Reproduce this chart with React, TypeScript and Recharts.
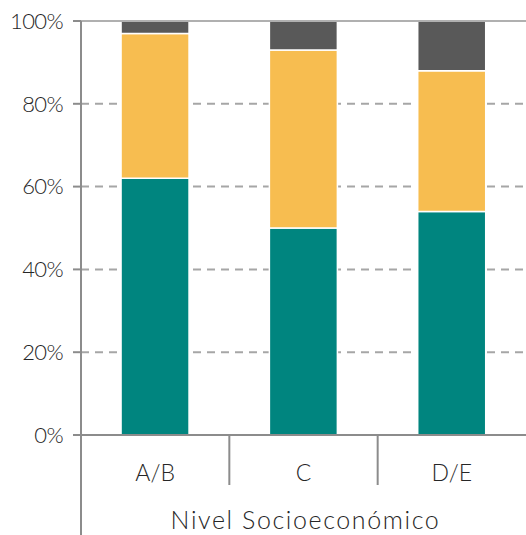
import React from 'react';
import { BarChart, Bar, XAxis, YAxis, CartesianGrid, ReferenceLine } from 'recharts';

const categories = ['A/B', 'C', 'D/E'];
const seriesTeal = [62, 50, 54];
const seriesYellow = [35, 43, 34];
const seriesGrey = [3, 7, 12];
const yTicks = [0, 20, 40, 60, 80, 100];
const xAxisTitle = 'Nivel Socioeconómico';

const data = categories.map((c, i) => ({
  cat: c,
  teal: seriesTeal[i],
  yellow: seriesYellow[i],
  grey: seriesGrey[i],
}));

const FONT = 'Lato, "Open Sans", sans-serif';
const AXIS = '#8c8c8c';
const TEXT = '#262626';

const XTick = (props: any) => {
  const { x, y, payload, index } = props;
  const n = categories.length;
  const band = (props.width ? props.width : 445) / n;
  const half = band / 2;
  return (
    <g>
      <text x={x} y={y + 38} textAnchor="middle" fill={TEXT} fontSize={23} fontFamily={FONT} fontWeight={300}>
        {payload.value}
      </text>
      {index < n - 1 && (
        <line x1={x + half} x2={x + half} y1={y - 8} y2={y + 42} stroke={AXIS} strokeWidth={2} />
      )}
      {index === 0 && (
        <line x1={x - half} x2={x - half} y1={y - 8} y2={y + 100} stroke={AXIS} strokeWidth={2} />
      )}
    </g>
  );
};

export default function App() {
  return (
    <div style={{ position: 'absolute', left: 0, top: 0, background: '#fff' }}>
      <BarChart
        width={526}
        height={535}
        data={data}
        margin={{ top: 21, right: 0, bottom: 0, left: 0 }}
        barCategoryGap="27%"
      >
        <CartesianGrid
          vertical={false}
          stroke="#a6a6a6"
          strokeWidth={2}
          strokeDasharray="8 6"
        />
        <ReferenceLine y={100} stroke="#b0b0b0" strokeWidth={2} />
        <XAxis
          dataKey="cat"
          height={100}
          axisLine={{ stroke: AXIS, strokeWidth: 2 }}
          tickLine={false}
          tick={<XTick />}
          interval={0}
          label={{
            value: xAxisTitle,
            position: 'insideBottom',
            offset: 6,
            fill: TEXT,
            fontSize: 25,
            fontFamily: FONT,
            fontWeight: 300,
            letterSpacing: 1.6,
            dx: 2,
          }}
        />
        <YAxis
          width={81}
          domain={[0, 100]}
          ticks={yTicks}
          interval={0}
          tickFormatter={(v: number) => `${v}%`}
          axisLine={{ stroke: AXIS, strokeWidth: 2 }}
          tickLine={{ stroke: AXIS, strokeWidth: 2 }}
          tickSize={8}
          tickMargin={10}
          tick={{ fill: TEXT, fontSize: 22, fontFamily: FONT, fontWeight: 300, letterSpacing: -0.6 }}
        />
        <Bar dataKey="teal" stackId="a" fill="#00857f" stroke="#ffffff" strokeWidth={1.5} isAnimationActive={false} />
        <Bar dataKey="yellow" stackId="a" fill="#f7bd50" stroke="#ffffff" strokeWidth={1.5} isAnimationActive={false} />
        <Bar dataKey="grey" stackId="a" fill="#595959" stroke="#ffffff" strokeWidth={1.5} isAnimationActive={false} />
      </BarChart>
    </div>
  );
}
